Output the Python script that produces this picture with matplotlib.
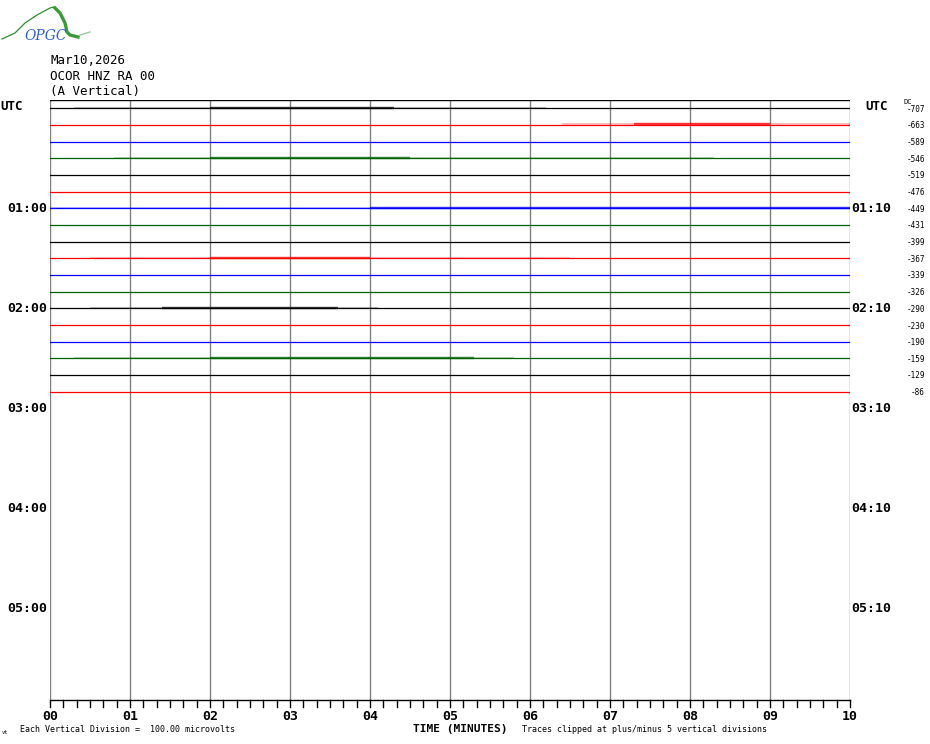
import matplotlib
matplotlib.use("Agg")
import matplotlib.pyplot as plt

# helicorder header
station = "OCOR HNZ RA 00"
day = "Mar10,2026"
component = "(A Vertical)"

# one trace per 10 minutes, colours cycle
n_rows = 36
trace_colors = ["black", "red", "blue", "green"]
n_traces = 18
dc_offsets = [-707, -663, -589, -546, -519, -476, -449, -431, -399,
              -367, -339, -326, -290, -230, -190, -159, -129, -86]
left_hours = ["UTC", "01:00", "02:00", "03:00", "04:00", "05:00"]
right_hours = ["UTC", "01:10", "02:10", "03:10", "04:10", "05:10"]
minute_labels = ["00", "01", "02", "03", "04", "05", "06", "07", "08", "09", "10"]

# segments where the trace is busy (row, start min, end min, level 1=light 2=dense)
busy = [
    (0, 0.3, 2.0, 1), (0, 2.0, 4.3, 2), (0, 4.3, 6.2, 1),
    (1, 6.4, 7.3, 1), (1, 7.3, 9.0, 2), (1, 9.0, 10.0, 1),
    (3, 0.8, 2.0, 1), (3, 2.0, 4.5, 2), (3, 4.5, 5.8, 1), (3, 5.8, 8.3, 1),
    (6, 0.0, 4.0, 1), (6, 4.0, 10.0, 2),
    (9, 0.5, 2.0, 1), (9, 2.0, 4.0, 2), (9, 4.0, 6.5, 1),
    (12, 0.5, 1.4, 1), (12, 1.4, 3.6, 2), (12, 3.6, 4.1, 1),
    (15, 0.3, 2.0, 1), (15, 2.0, 5.3, 2), (15, 5.3, 5.8, 1),
]
line_colors = {"black": "black", "red": "#ff0000", "blue": "#0000ff", "green": "#006400"}

# logo outline points (pixels)
logo_x = [2, 15, 25, 37, 50, 54, 55, 60, 65, 67, 70, 78, 80, 90]
logo_y = [39, 33, 23, 15, 8, 7, 8, 13, 23, 32, 35, 37, 35, 32]

fig = plt.figure(figsize=(9.3, 7.44), dpi=100)
W, H = 930, 744
ax = fig.add_axes([50 / W, (H - 700) / H, 800 / W, 600 / H])
ax.set_xlim(0, 10)
ax.set_ylim(n_rows, 0)
ax.axis("off")

# vertical minute grid
for m in range(0, 11):
    ax.plot([m, m], [0, n_rows], color="gray", lw=1.0, zorder=1)
ax.plot([0, 10], [0, 0], color="black", lw=1.0, zorder=1)

for i in range(n_traces):
    c = line_colors[trace_colors[i % 4]]
    ax.plot([0, 10], [i + 0.5, i + 0.5], color=c, lw=0.9, zorder=2)
for row, a, b, lvl in busy:
    c = line_colors[trace_colors[row % 4]]
    ax.plot([a, b], [row + 0.5 - 0.05, row + 0.5 - 0.05], color=c,
            lw=1.2 if lvl == 1 else 1.7, alpha=0.3 if lvl == 1 else 0.8,
            solid_capstyle="butt", zorder=3)

mono = "DejaVu Sans Mono"

# bottom time axis
ax.plot([0, 10], [n_rows, n_rows], color="black", lw=1.0, clip_on=False)
for k in range(61):
    x = k / 6
    ax.plot([x, x], [n_rows, n_rows + 0.42], color="black", lw=1.0, clip_on=False)
for m, lab in enumerate(minute_labels):
    ax.text(m, n_rows + 0.98, lab, ha="center", va="center", fontsize=9.5,
            fontweight="bold", family=mono)

# hour labels
for j, (l, r) in enumerate(zip(left_hours, right_hours)):
    y = j * 6 + 0.5
    if l == "UTC":
        fig.text(0 / W, 1 - 107 / H, l, ha="left", va="center", fontsize=9,
                 fontweight="bold", family=mono)
        fig.text(865 / W, 1 - 107 / H, r, ha="left", va="center", fontsize=9,
                 fontweight="bold", family=mono)
    else:
        ax.text(-0.04, y, l, ha="right", va="center", fontsize=9.5,
                fontweight="bold", family=mono, clip_on=False)
        ax.text(10.02, y, r, ha="left", va="center", fontsize=9.5,
                fontweight="bold", family=mono, clip_on=False)

# DC offsets
for i, v in enumerate(dc_offsets):
    fig.text(925 / W, 1 - (100 + (i + 0.5) * 600 / n_rows + 1) / H, str(v),
             ha="right", va="center", fontsize=5.5, family=mono)
fig.text(908 / W, 1 - 102 / H, "DC", ha="center", va="center", fontsize=5,
         family=mono)

# header
fig.text(50 / W, 1 - 61 / H, day, fontsize=9, family=mono, va="center")
fig.text(50 / W, 1 - 76 / H, station, fontsize=9, family=mono, va="center")
fig.text(50 / W, 1 - 91 / H, component, fontsize=9, family=mono, va="center")

# footer
fig.text(20 / W, 1 - 730 / H, "Each Vertical Division =  100.00 microvolts",
         fontsize=6, family=mono, va="center")
fig.text(2 / W, 1 - 732 / H, "vt", fontsize=4, family=mono, va="center")
fig.text(413 / W, 1 - 729 / H, "TIME (MINUTES)", fontsize=8, fontweight="bold",
         family=mono, va="center")
fig.text(522 / W, 1 - 730 / H, "Traces clipped at plus/minus 5 vertical divisions",
         fontsize=6, family=mono, va="center")

# logo
lax = fig.add_axes([0, 1 - 45 / H, 92 / W, 45 / H])
lax.set_xlim(0, 92)
lax.set_ylim(45, 0)
lax.axis("off")
lax.plot(logo_x[:6], logo_y[:6], color="#2e8b2e", lw=0.9)
lax.plot(logo_x[6:12], logo_y[6:12], color="#3a9a3a", lw=2.4)
lax.plot(logo_x[12:], logo_y[12:], color="#99cc99", lw=1.0)
lax.text(46, 36, "OPGC", ha="center", va="center", fontsize=10, color="#3060d0",
         style="italic", family="DejaVu Serif")

fig.savefig("out.png", dpi=100)
